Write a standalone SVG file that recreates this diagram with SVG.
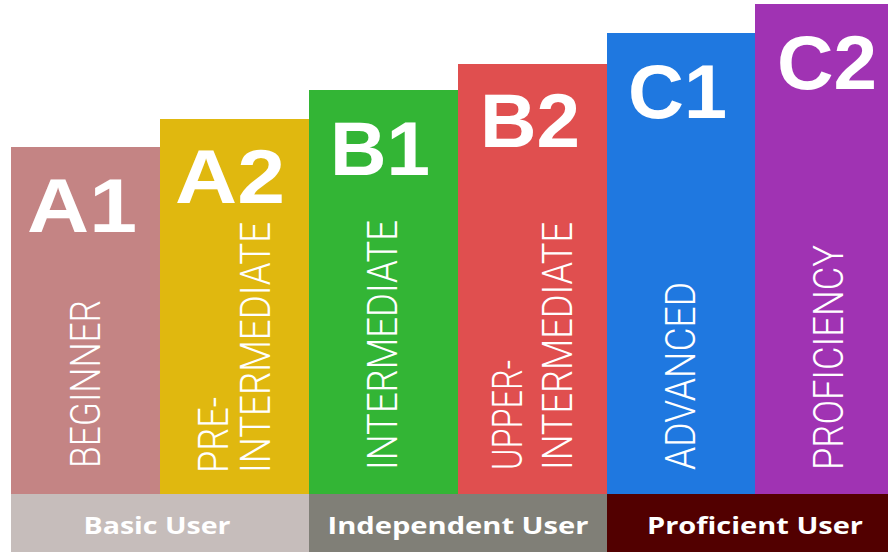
<svg xmlns="http://www.w3.org/2000/svg" width="888" height="552" viewBox="0 0 888 552">
<style>
.big{font-family:"Liberation Sans",Arial,sans-serif;font-weight:bold;font-size:76px;fill:#fff}
.vt{font-family:Roboto,"Liberation Sans",sans-serif;font-weight:300;font-size:42px;fill:#fff}
.ft{font-family:"Open Sans","Liberation Sans",sans-serif;font-weight:bold;font-size:24px;fill:#fff;text-anchor:middle}
</style>
<rect width="888" height="552" fill="#fff"/>
<g id="A1">
<rect x="11" y="147" width="149" height="347" fill="#c48484"/>
<text class="big" x="27" y="232" textLength="110" lengthAdjust="spacingAndGlyphs">A1</text>
<text class="vt" transform="translate(100,468) rotate(-90)" textLength="168" lengthAdjust="spacingAndGlyphs">BEGINNER</text>
</g>
<g id="A2">
<rect x="160" y="119" width="149" height="375" fill="#e0b80f"/>
<text class="big" x="175" y="203" textLength="110" lengthAdjust="spacingAndGlyphs">A2</text>
<text class="vt" transform="translate(228,473) rotate(-90)" textLength="76" lengthAdjust="spacingAndGlyphs">PRE-</text>
<text class="vt" transform="translate(270,473) rotate(-90)" textLength="251" lengthAdjust="spacingAndGlyphs">INTERMEDIATE</text>
</g>
<g id="B1">
<rect x="309" y="90" width="149" height="404" fill="#33b535"/>
<text class="big" x="330" y="175" textLength="100" lengthAdjust="spacingAndGlyphs">B1</text>
<text class="vt" transform="translate(397,470) rotate(-90)" textLength="250" lengthAdjust="spacingAndGlyphs">INTERMEDIATE</text>
</g>
<g id="B2">
<rect x="458" y="64" width="149" height="430" fill="#e04f4f"/>
<text class="big" x="480" y="147" textLength="100" lengthAdjust="spacingAndGlyphs">B2</text>
<text class="vt" transform="translate(522,470) rotate(-90)" textLength="110" lengthAdjust="spacingAndGlyphs">UPPER-</text>
<text class="vt" transform="translate(572,470) rotate(-90)" textLength="248" lengthAdjust="spacingAndGlyphs">INTERMEDIATE</text>
</g>
<g id="C1">
<rect x="607" y="33" width="148" height="461" fill="#1f78e0"/>
<text class="big" x="628" y="118" textLength="99" lengthAdjust="spacingAndGlyphs">C1</text>
<text class="vt" transform="translate(695,470) rotate(-90)" textLength="188" lengthAdjust="spacingAndGlyphs">ADVANCED</text>
</g>
<g id="C2">
<rect x="755" y="4" width="133" height="490" fill="#a033b3"/>
<text class="big" x="777" y="89" textLength="100" lengthAdjust="spacingAndGlyphs">C2</text>
<text class="vt" transform="translate(843,470) rotate(-90)" textLength="225" lengthAdjust="spacingAndGlyphs">PROFICIENCY</text>
</g>
<g id="basic">
<rect x="11" y="494" width="298" height="58" fill="#c6bdbb"/>
<text class="ft" x="157" y="534" textLength="147" lengthAdjust="spacingAndGlyphs">Basic User</text>
</g>
<g id="independent">
<rect x="309" y="494" width="298" height="58" fill="#807f77"/>
<text class="ft" x="458" y="534" textLength="261" lengthAdjust="spacingAndGlyphs">Independent User</text>
</g>
<g id="proficient">
<rect x="607" y="494" width="281" height="58" fill="#520000"/>
<text class="ft" x="755" y="534" textLength="216" lengthAdjust="spacingAndGlyphs">Proficient User</text>
</g>
<g id="connectors"/>
</svg>
